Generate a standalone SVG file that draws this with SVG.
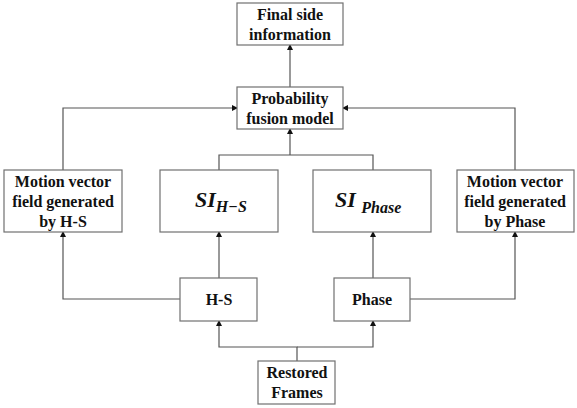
<svg xmlns="http://www.w3.org/2000/svg" width="577" height="408" viewBox="0 0 577 408">
<style>
.box{fill:#fff;stroke:#707070;stroke-width:1.2}
.t{font-family:'Times New Roman','Liberation Serif','DejaVu Serif',serif;font-weight:700;font-size:16px;fill:#111;text-anchor:middle}
.si{font-family:'Times New Roman','Liberation Serif','DejaVu Serif',serif;font-weight:700;font-style:italic;fill:#111}
.c{fill:none;stroke:#555;stroke-width:1.2}
</style>
<defs>
<marker id="a" markerWidth="6" markerHeight="6" refX="5" refY="3" orient="auto" markerUnits="userSpaceOnUse">
<path d="M0,0 L6,3 L0,6 z" fill="#111"/>
</marker>
</defs>
<rect width="577" height="408" fill="#fff"/>
<g id="connectors">
<path class="c" d="M290,87 V45" marker-end="url(#a)"/>
<path class="c" d="M63,170 V108 H237" marker-end="url(#a)"/>
<path class="c" d="M515,170 V108 H343" marker-end="url(#a)"/>
<path class="c" d="M219,170 V155 H373 V170 M290,155 V129" marker-end="url(#a)"/>
<path class="c" d="M219,278 V232" marker-end="url(#a)"/>
<path class="c" d="M373,278 V232" marker-end="url(#a)"/>
<path class="c" d="M180,299 H63 V232" marker-end="url(#a)"/>
<path class="c" d="M410,299 H515 V232" marker-end="url(#a)"/>
<path class="c" d="M297,361 V347 H219 V321" marker-end="url(#a)"/>
<path class="c" d="M297,347 H373 V321" marker-end="url(#a)"/>
</g>
<g id="final">
<rect class="box" x="237" y="3" width="106" height="42"/>
<text class="t" x="290" y="20">Final side</text>
<text class="t" x="290" y="40">information</text>
</g>
<g id="fusion">
<rect class="box" x="237" y="87" width="106" height="42"/>
<text class="t" x="290" y="104">Probability</text>
<text class="t" x="290" y="124">fusion model</text>
</g>
<g id="mvhs">
<rect class="box" x="4" y="170" width="118" height="62"/>
<text class="t" x="63" y="187">Motion vector</text>
<text class="t" x="63" y="207">field generated</text>
<text class="t" x="63" y="227">by H-S</text>
</g>
<g id="sihs">
<rect class="box" x="160" y="170" width="118" height="62"/>
<text class="si" x="195" y="207" font-size="22">SI<tspan font-size="16" dy="5">H−S</tspan></text>
</g>
<g id="siphase">
<rect class="box" x="313" y="170" width="118" height="62"/>
<text class="si" x="335" y="207" font-size="22">SI <tspan font-size="16" dy="6">Phase</tspan></text>
</g>
<g id="mvphase">
<rect class="box" x="457" y="170" width="117" height="62"/>
<text class="t" x="515" y="187">Motion vector</text>
<text class="t" x="515" y="207">field generated</text>
<text class="t" x="515" y="227">by Phase</text>
</g>
<g id="hs">
<rect class="box" x="180" y="278" width="77" height="43"/>
<text class="t" x="219" y="305">H-S</text>
</g>
<g id="phase">
<rect class="box" x="334" y="278" width="76" height="43"/>
<text class="t" x="372" y="305">Phase</text>
</g>
<g id="restored">
<rect class="box" x="258" y="361" width="77" height="43"/>
<text class="t" x="297" y="378">Restored</text>
<text class="t" x="297" y="398">Frames</text>
</g>
</svg>
